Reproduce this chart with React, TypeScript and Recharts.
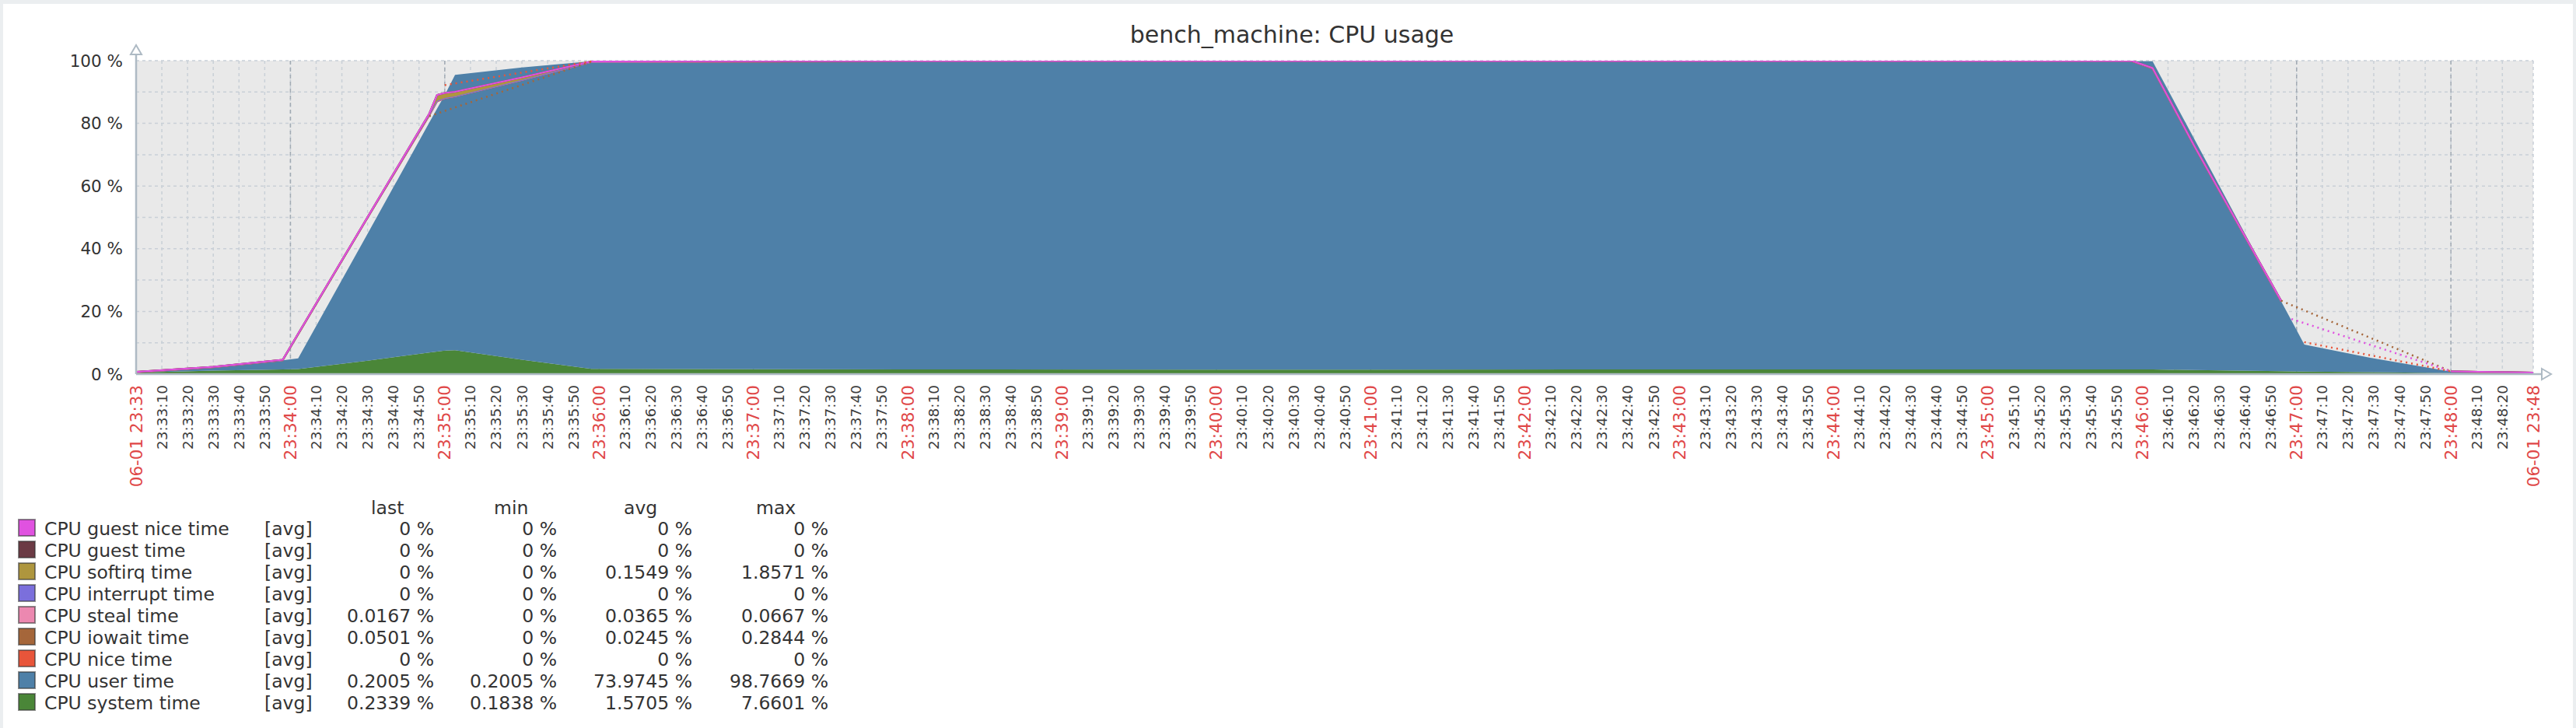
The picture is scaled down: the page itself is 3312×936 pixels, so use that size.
import React from 'react';
import { ComposedChart, Area, Line, XAxis, YAxis, CartesianGrid } from 'recharts';

// ---- data (seconds after 06-01 23:33:00) ----
const timeSec = [0, 30, 57, 63, 90, 114, 117, 120, 124, 150, 177, 300, 450, 600, 700, 776, 784, 800, 834, 838, 843, 870, 900, 932];

const systemTime = [0.5, 1.1, 1.5, 1.6, 4.3, 6.9, 7.2, 7.5, 7.66, 4.6, 1.7, 1.5, 1.4, 1.5, 1.5, 1.5, 1.5, 1.3, 0.9, 0.85, 0.8, 0.6, 0.3, 0.2339];
const userTime = [0.1, 1.1, 2.9, 3.4, 40.5, 73.4, 77.5, 81.5, 87.8, 93.2, 98.1, 98.3, 98.4, 98.3, 98.3, 98.3, 98.3, 74.1, 22.3, 16.3, 8.6, 4.4, 0.5, 0.2005];

// level on which the thin (line) items are drawn
const lineStackBase = [0.6, 2.2, 4.4, 12.7, 49.9, 82.5, 87.0, 88.0, 88.6, 93.8, 99.6, 99.8, 99.8, 99.8, 99.8, 99.8, 97.5, 73.0, 23.2, null, null, null, 0.8, 0.43];
const niceTime = [0, 0, 0, 0, 0, 0, 0, 0, 0, 0, 0, 0, 0, 0, 0, 0, 0, 0, 0, null, null, null, 0, 0];
const iowaitTime = [0.02, 0.03, 0.05, 0.05, 0.05, 0.28, 0.1, 0.05, 0.03, 0.02, 0.02, 0.02, 0.02, 0.02, 0.02, 0.02, 0.02, 0.02, 0.05, null, null, null, 0.05, 0.0501];
const stealTime = [0.03, 0.03, 0.04, 0.04, 0.04, 0.05, 0.0667, 0.05, 0.04, 0.04, 0.04, 0.03, 0.04, 0.03, 0.04, 0.04, 0.04, 0.04, 0.04, null, null, null, 0.02, 0.0167];
const interruptTime = [0, 0, 0, 0, 0, 0, 0, 0, 0, 0, 0, 0, 0, 0, 0, 0, 0, 0, 0, null, null, null, 0, 0];
const softirqTime = [0.05, 0.05, 0.1, 0.1, 0.1, 0.3, 1.8571, 1.6, 1.4, 0.8, 0.1, 0.1, 0.1, 0.1, 0.1, 0.1, 0.1, 0.1, 0.1, null, null, null, 0, 0];
const guestTime = [0, 0, 0, 0, 0, 0, 0, 0, 0, 0, 0, 0, 0, 0, 0, 0, 0, 0, 0, null, null, null, 0, 0];
const guestNiceTime = [0, 0, 0, 0, 0, 0, 0, 0, 0, 0, 0, 0, 0, 0, 0, 0, 0, 0, 0, null, null, null, 0, 0];

// dotted connections across missing data (levels)
const iowaitGapUp = [null, null, null, null, null, 82.3, null, null, null, null, 99.7, null, null, null, null, null, null, null, null, null, null, null, null, null];
const niceGapUp = [null, null, null, null, null, null, null, 92.2, null, null, 99.8, null, null, null, null, null, null, null, null, null, null, null, null, null];
const iowaitGapDown = [null, null, null, null, null, null, null, null, null, null, null, null, null, null, null, null, null, null, 23.4, null, null, null, 0.9, null];
const guestNiceGapDown = [null, null, null, null, null, null, null, null, null, null, null, null, null, null, null, null, null, null, null, 17.6, null, null, 0.9, null];
const niceGapDown = [null, null, null, null, null, null, null, null, null, null, null, null, null, null, null, null, null, null, null, null, 10.2, null, 0.9, null];

const xDomain = [0, 932];
const xStartClock = { h: 23, m: 33 };
const edgeLabels = ['06-01 23:33', '06-01 23:48'];
const yTicks = [0, 10, 20, 30, 40, 50, 60, 70, 80, 90, 100];
const yLabelTicks = [0, 20, 40, 60, 80, 100];

const xTicks: number[] = [0];
for (let s = 10; s <= 920; s += 10) xTicks.push(s);
xTicks.push(932);
const minuteTicks = xTicks.filter((s) => s > 0 && s < 932 && s % 60 === 0);

const legendNames = ['CPU guest nice time', 'CPU guest time', 'CPU softirq time', 'CPU interrupt time', 'CPU steal time', 'CPU iowait time', 'CPU nice time', 'CPU user time', 'CPU system time'];
const legendColors = ['#e052e0', '#6b3a44', '#ae963e', '#7b6fdc', '#ec88b0', '#a5663a', '#e8553a', '#4e80a8', '#4a8638'];
const statLast = ['0 %', '0 %', '0 %', '0 %', '0.0167 %', '0.0501 %', '0 %', '0.2005 %', '0.2339 %'];
const statMin = ['0 %', '0 %', '0 %', '0 %', '0 %', '0 %', '0 %', '0.2005 %', '0.1838 %'];
const statAvg = ['0 %', '0 %', '0.1549 %', '0 %', '0.0365 %', '0.0245 %', '0 %', '73.9745 %', '1.5705 %'];
const statMax = ['0 %', '0 %', '1.8571 %', '0 %', '0.0667 %', '0.2844 %', '0 %', '98.7669 %', '7.6601 %'];
const statHeaders = ['last', 'min', 'avg', 'max'];

const C = {
  guestNice: legendColors[0],
  guest: legendColors[1],
  softirq: legendColors[2],
  interrupt: legendColors[3],
  steal: legendColors[4],
  iowait: legendColors[5],
  nice: legendColors[6],
  user: legendColors[7],
  system: legendColors[8],
};

const rows = timeSec.map((t, i) => ({
  t,
  system: systemTime[i],
  user: userTime[i],
  base: lineStackBase[i],
  nice: niceTime[i],
  iowait: iowaitTime[i],
  steal: stealTime[i],
  interrupt: interruptTime[i],
  softirq: softirqTime[i],
  guest: guestTime[i],
  guestNice: guestNiceTime[i],
  iowaitGapUp: iowaitGapUp[i],
  niceGapUp: niceGapUp[i],
  iowaitGapDown: iowaitGapDown[i],
  guestNiceGapDown: guestNiceGapDown[i],
  niceGapDown: niceGapDown[i],
}));

const FONT = '"DejaVu Sans", "Liberation Sans", sans-serif';
const W = 3312;
const CH = 640;
const PLOT = { left: 175, right: 3257, top: 78, bottom: 481 };

const pad = (n: number) => (n < 10 ? '0' + n : '' + n);
const clockLabel = (s: number) => {
  const total = xStartClock.m * 60 + s;
  const m = Math.floor(total / 60);
  const sec = total % 60;
  return `${xStartClock.h}:${pad(m)}:${pad(sec)}`;
};

const XTick = (props: any) => {
  const { x, y, payload } = props;
  const v = payload.value;
  let label: string;
  let major = false;
  if (v === xDomain[0]) { label = edgeLabels[0]; major = true; }
  else if (v === xDomain[1]) { label = edgeLabels[1]; major = true; }
  else { label = clockLabel(v); major = v % 60 === 0; }
  return (
    <text
      x={x}
      y={y}
      transform={`rotate(-90, ${x}, ${y})`}
      textAnchor="end"
      dominantBaseline="central"
      fontFamily={FONT}
      fontSize={major ? 21.5 : 18.5}
      fill={major ? '#e04848' : '#3c3c3c'}
    >
      {label}
    </text>
  );
};

const YTick = (props: any) => {
  const { x, y, payload } = props;
  if (!yLabelTicks.includes(payload.value)) return <g />;
  return (
    <text x={x} y={y} textAnchor="end" dominantBaseline="central" fontFamily={FONT} fontSize={21.5} fill="#333">
      {`${payload.value} %`}
    </text>
  );
};

const minuteGen = (p: any) => {
  const sc = p && p.xAxis && p.xAxis.scale;
  if (typeof sc === 'function') return minuteTicks.map((v) => sc(v));
  if (sc && typeof sc.map === 'function') return minuteTicks.map((v) => sc.map(v));
  const off = p.offset;
  return minuteTicks.map((v) => off.left + ((v - xDomain[0]) / (xDomain[1] - xDomain[0])) * off.width);
};

const lineItems: { key: string; color: string }[] = [
  { key: 'nice', color: C.nice },
  { key: 'iowait', color: C.iowait },
  { key: 'steal', color: C.steal },
  { key: 'interrupt', color: C.interrupt },
  { key: 'softirq', color: C.softirq },
  { key: 'guest', color: C.guest },
  { key: 'guestNice', color: C.guestNice },
];

const gapLines: { key: string; color: string }[] = [
  { key: 'iowaitGapUp', color: C.iowait },
  { key: 'niceGapUp', color: C.nice },
  { key: 'iowaitGapDown', color: C.iowait },
  { key: 'guestNiceGapDown', color: C.guestNice },
  { key: 'niceGapDown', color: C.nice },
];

const AXIS = '#aebac4';

export default function App() {
  const valueCols = [statLast, statMin, statAvg, statMax];
  const colRight = [558, 716, 890, 1065];
  const headLeft = [477, 635, 802, 972];
  return (
    <div style={{ position: 'absolute', left: 0, top: 0, width: W, height: 936, background: '#ebeef0', overflow: 'hidden', fontFamily: FONT }}>
      <div style={{ position: 'absolute', left: 4, top: 5, width: W - 8, height: 936 - 5, background: '#ffffff' }} />
      <div style={{ position: 'absolute', left: 0, top: 0 }}>
        <ComposedChart
          width={W}
          height={CH}
          data={rows}
          margin={{ top: PLOT.top, right: W - PLOT.right, left: 0, bottom: CH - PLOT.bottom - 140 }}
        >
          <CartesianGrid fill="#e9e9e9" stroke="#c9d0d7" strokeDasharray="4 4" strokeWidth={1.5} />
          <CartesianGrid horizontal={false} vertical verticalCoordinatesGenerator={minuteGen} stroke="#a2abb4" strokeDasharray="5 4" strokeWidth={1.5} />
          <XAxis
            type="number"
            dataKey="t"
            domain={xDomain}
            ticks={xTicks}
            interval={0}
            height={140}
            tickSize={0}
            tickMargin={14}
            tickLine={false}
            axisLine={{ stroke: AXIS, strokeWidth: 2.5 }}
            tick={<XTick />}
            allowDataOverflow
          />
          <YAxis
            type="number"
            domain={[0, 100]}
            ticks={yTicks}
            interval={0}
            width={PLOT.left}
            tickSize={0}
            tickMargin={17}
            tickLine={false}
            axisLine={{ stroke: AXIS, strokeWidth: 2.5 }}
            tick={<YTick />}
            allowDataOverflow
          />
          <Area type="linear" dataKey="system" stackId="a" fill={C.system} fillOpacity={1} stroke="none" isAnimationActive={false} />
          <Area type="linear" dataKey="user" stackId="a" fill={C.user} fillOpacity={1} stroke="none" isAnimationActive={false} />
          <Area type="linear" dataKey="base" stackId="b" fill="none" stroke="none" isAnimationActive={false} />
          {lineItems.map((it) => (
            <Area
              key={it.key}
              type="linear"
              dataKey={it.key}
              stackId="b"
              fill={it.color}
              fillOpacity={1}
              stroke={it.color}
              strokeWidth={2.2}
              isAnimationActive={false}
            />
          ))}
          {gapLines.map((g) => (
            <Line
              key={g.key}
              type="linear"
              dataKey={g.key}
              stroke={g.color}
              strokeWidth={2.5}
              strokeDasharray="2 5"
              dot={false}
              activeDot={false}
              connectNulls
              isAnimationActive={false}
            />
          ))}
        </ComposedChart>
      </div>
      <svg width={W} height={936} style={{ position: 'absolute', left: 0, top: 0, pointerEvents: 'none' }}>
        <text x={1661} y={55} textAnchor="middle" fontFamily={FONT} fontSize={30} fill="#333">
          bench_machine: CPU usage
        </text>
        {/* axis arrows */}
        <line x1={PLOT.left} y1={70} x2={PLOT.left} y2={PLOT.top} stroke={AXIS} strokeWidth={2.5} />
        <polygon points={`${PLOT.left - 7},70 ${PLOT.left},58 ${PLOT.left + 7},70`} fill="#fff" stroke={AXIS} strokeWidth={2} />
        <line x1={PLOT.right} y1={PLOT.bottom} x2={3268} y2={PLOT.bottom} stroke={AXIS} strokeWidth={2.5} />
        <polygon points={`3268,${PLOT.bottom - 7} 3280,${PLOT.bottom} 3268,${PLOT.bottom + 7}`} fill="#fff" stroke={AXIS} strokeWidth={2} />
        {/* legend table */}
        {statHeaders.map((h, j) => (
          <text key={h} x={headLeft[j]} y={661} fontFamily={FONT} fontSize={23.5} fill="#333">{h}</text>
        ))}
        {legendNames.map((name, i) => {
          const base = 688 + i * 28;
          return (
            <g key={name}>
              <rect x={24} y={base - 20} width={21} height={21} fill={legendColors[i]} stroke="#333" strokeOpacity={0.55} strokeWidth={2} />
              <text x={57} y={base} fontFamily={FONT} fontSize={23.5} fill="#333">{name}</text>
              <text x={340} y={base} fontFamily={FONT} fontSize={23.5} fill="#333">[avg]</text>
              {valueCols.map((col, j) => (
                <text key={j} x={colRight[j]} y={base} textAnchor="end" fontFamily={FONT} fontSize={23.5} fill="#333">{col[i]}</text>
              ))}
            </g>
          );
        })}
      </svg>
    </div>
  );
}
